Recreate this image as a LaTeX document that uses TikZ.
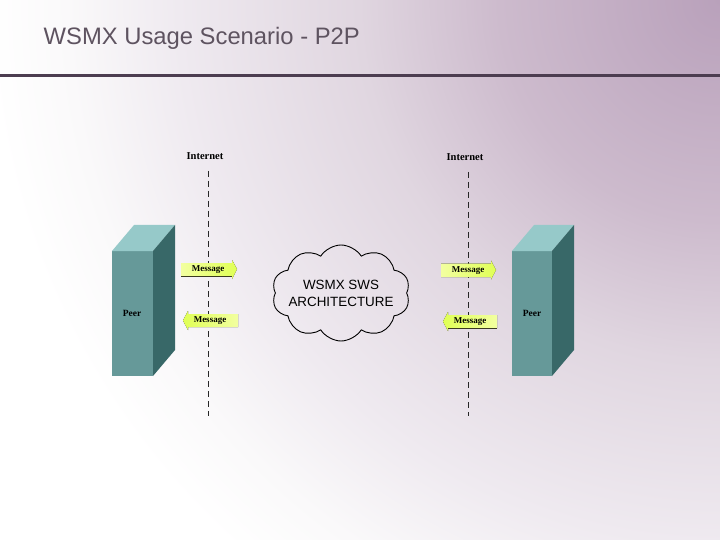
\documentclass[tikz,border=0pt]{standalone}
\usepackage{fontspec}
\setmainfont{Liberation Serif}
\newfontfamily\arialf{Liberation Sans}
\usetikzlibrary{shapes.symbols}
\definecolor{purpA}{HTML}{B9A1BB}
\definecolor{purpB}{HTML}{CDBBCD}
\definecolor{purpC}{HTML}{E0D6E0}
\definecolor{purpD}{HTML}{EFEAF0}
\definecolor{purpE}{HTML}{FAF9FA}
\definecolor{titlec}{HTML}{5E5360}
\definecolor{rulec}{HTML}{4C3D50}
\definecolor{peerfront}{HTML}{669999}
\definecolor{peertop}{HTML}{96C9C9}
\definecolor{peerside}{HTML}{386868}
\definecolor{msgA}{HTML}{F2FFA0}
\definecolor{msgB}{HTML}{E0FF55}
\definecolor{msgedge}{HTML}{3A3A20}
\pgfdeclareradialshading{bgshade}{\pgfpoint{0bp}{0bp}}{color(0bp)=(purpA); color(220bp)=(purpB); color(360bp)=(purpC); color(540bp)=(purpD); color(650bp)=(purpE); color(730bp)=(white); color(1000bp)=(white)}
\tikzset{
  lbl/.style={inner sep=0pt, font=\fontsize{10.5}{12}\selectfont\bfseries},
  msgtext/.style={inner sep=0pt, font=\fontsize{9}{10}\selectfont\bfseries},
  peerlbl/.style={inner sep=0pt, font=\fontsize{9.5}{11}\selectfont\bfseries},
  netline/.style={line width=0.9pt, dash pattern=on 6pt off 4pt, color=black!85},
  msgfillR/.style={left color=msgA, right color=msgB, draw=none},
  msgfillL/.style={right color=msgA, left color=msgB, draw=none},
  edgeline/.style={line width=0.9pt, color=msgedge},
}
\begin{document}
\begin{tikzpicture}[x=1pt,y=-1pt]
\useasboundingbox (0,0) rectangle (720,540);
% background
\begin{scope}
\clip (0,0) rectangle (720,540);
\fill[white] (0,0) rectangle (720,540);
\node[inner sep=0pt, outer sep=0pt] (bg) at (720,0) {\pgfuseshading{bgshade}};
\end{scope}
% title and rule
\node[anchor=base west, inner sep=0pt, text=titlec, font=\arialf\fontsize{23.8}{28}\selectfont] (title) at (43.5,45) {WSMX Usage Scenario - P2P};
\coordinate (ruleL) at (0,76);
\coordinate (ruleR) at (720,76);
\draw[line width=3pt, rulec] (ruleL) -- (ruleR);

% internet dashed lines
\node[lbl] (netL) at (205,156) {Internet};
\node[lbl] (netR) at (465,157) {Internet};
\coordinate (lineLtop) at (208,171);
\coordinate (lineLbot) at (208,416);
\coordinate (lineRtop) at (468,172);
\coordinate (lineRbot) at (468,416);
\draw[netline] (lineLtop) -- (lineLbot);
\draw[netline] (lineRtop) -- (lineRbot);

% left peer
\fill[peerfront] (112,251) rectangle (153,376);
\fill[peertop] (112,251) -- (153,251) -- (175,225) -- (134,225) -- cycle;
\fill[peerside] (153,251) -- (175,225) -- (175,350) -- (153,376) -- cycle;
\node[peerlbl] (peerL) at (132,313) {Peer};

% right peer
\fill[peerfront] (512,251) rectangle (552,376);
\fill[peertop] (512,251) -- (552,251) -- (574,225) -- (534,225) -- cycle;
\fill[peerside] (552,251) -- (574,225) -- (574,350) -- (552,376) -- cycle;
\node[peerlbl] (peerR) at (532,313) {Peer};

% messages: left side
\fill[msgfillR] (181,263) -- (232,263) -- (232,260) -- (237,269) -- (232,279) -- (232,276) -- (181,276) -- cycle;
\draw[edgeline] (181,276) -- (232,276);
\node[msgtext] (m1) at (208,269.5) {Message};

\fill[msgfillL] (238,314) -- (188,314) -- (188,311) -- (183,320.5) -- (188,330) -- (188,327) -- (238,327) -- cycle;
\node[msgtext] (m2) at (210,321) {Message};

% messages: right side
\fill[msgfillR] (441,263.5) -- (491,263.5) -- (491,260.5) -- (496,270) -- (491,279.5) -- (491,277) -- (441,277) -- cycle;
\node[msgtext] (m3) at (468,270.5) {Message};

\fill[msgfillL] (497,315) -- (448,315) -- (448,312) -- (443,321.5) -- (448,331) -- (448,328) -- (497,328) -- cycle;
\draw[edgeline] (448,328) -- (497,328);
\node[msgtext] (m4) at (470,321.5) {Message};

% cloud
\node[cloud, draw=black, line width=0.9pt, cloud puffs=10, cloud puff arc=115, minimum width=138pt, minimum height=96pt, inner sep=0pt] (cloud) at (341,293) {};
\node[inner sep=0pt, align=center, font=\arialf\fontsize{13.4}{17}\selectfont] (cloudtext) at (cloud.center) {WSMX SWS\\ARCHITECTURE};
\end{tikzpicture}
\end{document}
